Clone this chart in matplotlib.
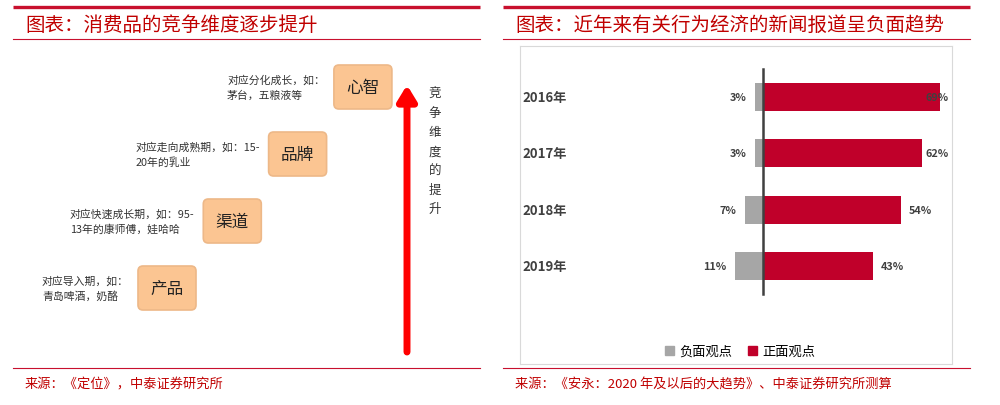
import numpy as np
import matplotlib.pyplot as plt
from matplotlib.patches import FancyBboxPatch, Patch

plt.rcParams['font.family'] = ['Noto Sans CJK SC', 'DejaVu Sans']

# left panel: stages of competition
stages = ['产品', '渠道', '品牌', '心智']
notes = ['对应导入期，如：\n青岛啤酒，奶酪',
         '对应快速成长期，如：95-\n13年的康师傅，娃哈哈',
         '对应走向成熟期，如：15-\n20年的乳业',
         '对应分化成长，如：\n茅台，五粮液等']
arrow_label = '竞争维度的提升'

# right panel: news coverage
years = ['2016年', '2017年', '2018年', '2019年']
negative = [3, 3, 7, 11]
positive = [69, 62, 54, 43]

title_l = '图表：消费品的竞争维度逐步提升'
title_r = '图表：近年来有关行为经济的新闻报道呈负面趋势'
source_l = '来源：《定位》，中泰证券研究所'
source_r = '来源：《安永：2020 年及以后的大趋势》、中泰证券研究所测算'

RED = '#C8102E'
TITLE_RED = '#C00000'
BAR_RED = '#C0002A'
GRAY = '#A6A6A6'

W, H = 1000, 406
fig = plt.figure(figsize=(W / 100, H / 100), dpi=100)

# overlay axes in pixel coordinates for the frame and the diagram
deco = fig.add_axes([0, 0, 1, 1])
deco.set_xlim(0, W)
deco.set_ylim(H, 0)
deco.axis('off')

for x0, x1, tx, title, src in [(13, 480, 25, title_l, source_l),
                                (503, 970, 515, title_r, source_r)]:
    deco.plot([x0, x1], [8, 8], color=RED, lw=2.4, solid_capstyle='butt')
    deco.plot([x0, x1], [40, 40], color=RED, lw=0.8)
    deco.plot([x0, x1], [369, 369], color=RED, lw=0.8)
    deco.text(tx, 25, title, color=TITLE_RED, fontsize=14, fontweight='medium',
              ha='left', va='center', style='italic')
    deco.text(tx, 385, src, color=TITLE_RED, fontsize=9.5,
              ha='left', va='center')

# stage boxes climbing to the right
bw, bh = 58, 44
for i, (name, note) in enumerate(zip(stages, notes)):
    left = 138 + 65.3 * i
    cy = 289 - 67 * i
    box = FancyBboxPatch((left, cy - bh / 2), bw, bh,
                         boxstyle='round,pad=0,rounding_size=5',
                         fc='#FBC592', ec='#EDB888', lw=1.2)
    deco.add_patch(box)
    deco.text(left + bw / 2, cy, name, fontsize=12, color='#222222',
              ha='center', va='center')
    deco.text(left - 9, cy, note, fontsize=7.8, color='#333333',
              ha='right', va='center', multialignment='left', linespacing=1.5)

# red arrow
deco.annotate('', xy=(407, 86), xytext=(407, 353),
              arrowprops=dict(arrowstyle='-|>,head_width=0.55,head_length=0.9',
                              color='#FF0000', lw=5, shrinkA=0, shrinkB=0))
deco.text(435, 88, '\n'.join(arrow_label), fontsize=9, color='#333333',
          ha='center', va='top', linespacing=1.62)

# right chart
bx0, bx1, by0, by1 = 520, 952, 47, 365
ax = fig.add_axes([bx0 / W, 1 - by1 / H, (bx1 - bx0) / W, (by1 - by0) / H])
ppx = 2.56
ax.set_xlim((bx0 - 763) / ppx, (bx1 - 763) / ppx)
step = 56.3
ax.set_ylim((by1 - 98) / step, (by0 - 98) / step)
y = np.arange(len(years))
neg = -np.array(negative)
pos = np.array(positive)
ax.barh(y, neg, height=0.5, color=GRAY)
ax.barh(y, pos, height=0.5, color=BAR_RED)
ax.plot([0, 0], [-0.5, len(years) - 0.5], color='#404040', lw=1.8)

for yi, n, p, lab in zip(y, neg, pos, years):
    ax.text(n - 3.5, yi, f'{-n}%', ha='right', va='center', fontsize=7.8,
            fontweight='bold', color='#404040')
    ax.text(min(p + 3, 63.5), yi, f'{p}%', ha='left', va='center',
            fontsize=7.8, fontweight='bold', color='#404040')
    ax.text(0.005, yi, lab, transform=ax.get_yaxis_transform(), ha='left',
            va='center', fontsize=9.5, fontweight='semibold', color='#404040')

ax.set_xticks([])
ax.set_yticks([])
for s in ax.spines.values():
    s.set_color('#D9D9D9')
    s.set_linewidth(0.8)

handles = [Patch(color=GRAY, label='负面观点'), Patch(color=BAR_RED, label='正面观点')]
ax.legend(handles=handles, loc='center', bbox_to_anchor=(0.51, 0.04), ncol=2,
          frameon=False, fontsize=9.5, handlelength=0.7, handleheight=0.7,
          columnspacing=1.2, handletextpad=0.4)

fig.savefig('out.png', dpi=100)
